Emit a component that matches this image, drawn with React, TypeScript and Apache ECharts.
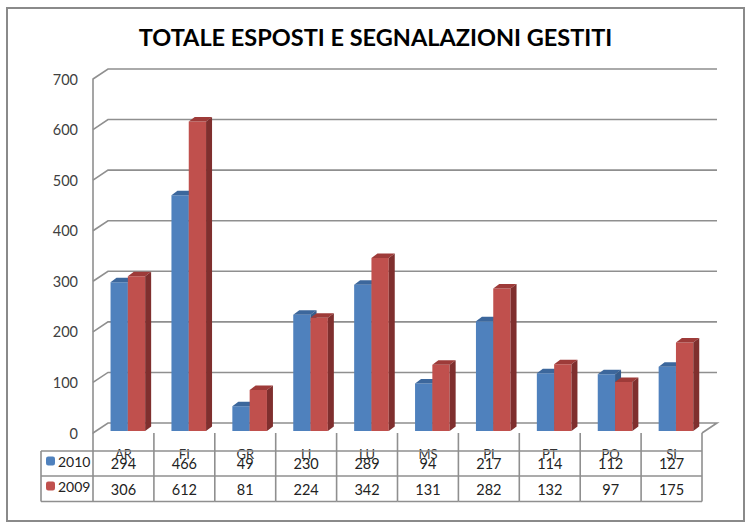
import React, { useEffect, useRef } from "react";
import * as echarts from "echarts";

const categories = ["AR", "FI", "GR", "LI", "LU", "MS", "PI", "PT", "PO", "SI"];
const values2010 = [294, 466, 49, 230, 289, 94, 217, 114, 112, 127];
const values2009 = [306, 612, 81, 224, 342, 131, 282, 132, 97, 175];
const yTicks = [0, 100, 200, 300, 400, 500, 600, 700];
const titleText = "TOTALE ESPOSTI E SEGNALAZIONI GESTITI";

const FONT = "Lato, 'Open Sans', sans-serif";
const LINE = "#8f8f8f";

function barSeries(name: string, values: number[], side: -1 | 1, front: string, top: string, dark: string) {
  return {
    type: "custom",
    name,
    coordinateSystem: "cartesian2d",
    itemStyle: { color: front },
    z: side < 0 ? 3 : 4,
    clip: false,
    data: values.map((v, i) => [i, v]),
    encode: { x: 0, y: 1 },
    renderItem(_p: any, api: any) {
      const cat = api.value(0);
      const val = api.value(1);
      const [cx, cy] = api.coord([cat, val]);
      const [, by] = api.coord([cat, 0]);
      const w = 17.3;
      const centre = cx + 4.4;
      const x0 = side < 0 ? centre - w : centre;
      const x1 = x0 + w;
      const yt = cy - 2;
      const yb = by - 2;
      const dx = 6;
      const dy = 4.5;
      return {
        type: "group",
        children: [
          { type: "rect", shape: { x: x0, y: yt, width: w, height: yb - yt }, style: { fill: front } },
          {
            type: "polygon",
            shape: { points: [[x0, yt], [x0 + dx, yt - dy], [x1 + dx, yt - dy], [x1, yt]] },
            style: { fill: top },
          },
          {
            type: "polygon",
            shape: { points: [[x1, yt], [x1 + dx, yt - dy], [x1 + dx, yb - dy], [x1, yb]] },
            style: { fill: dark },
          },
        ],
      };
    },
  };
}

export default function App() {
  const ref = useRef<HTMLDivElement>(null);

  useEffect(() => {
    const chart = echarts.init(ref.current!, undefined, { renderer: "svg" });
    const backDx = 15;
    const backDy = 10;
    const rowLines = [451, 476, 501.5];
    const tableLeft = 41;
    const labelRight = 93;
    const lineStyle = { stroke: LINE, lineWidth: 1.6, fill: "none" };

    chart.setOption({
      animation: false,
      backgroundColor: "#ffffff",
      title: {
        text: titleText,
        left: 370.5,
        textAlign: "center",
        top: 20,
        textStyle: { fontFamily: FONT, fontSize: 23.5, fontWeight: "bold", color: "#000000" },
      },
      legend: {
        orient: "vertical",
        left: 41,
        top: 449,
        itemWidth: 9,
        itemHeight: 9,
        itemGap: 11,
        selectedMode: false,
        data: ["2010", "2009"],
        textStyle: { fontFamily: FONT, fontSize: 14, lineHeight: 14, color: "#222222", padding: [0, 0, 0, -2] },
      },
      grid: { left: 93, right: 51, top: 79, bottom: 96, containLabel: false },
      xAxis: {
        type: "category",
        data: categories,
        axisLine: { show: false },
        axisTick: { show: false },
        axisLabel: {
          margin: 14,
          interval: 0,
          fontFamily: FONT,
          fontSize: 13,
          color: "#333333",
        },
      },
      yAxis: {
        type: "value",
        min: 0,
        max: 700,
        interval: 100,
        splitLine: { show: false },
        axisTick: { show: false },
        axisLine: { show: true, lineStyle: { color: LINE, width: 1.6 } },
        axisLabel: { margin: 15, fontFamily: FONT, fontSize: 14.5, color: "#404040" },
      },
      series: [
        {
          type: "custom",
          name: "walls",
          coordinateSystem: "cartesian2d",
          silent: true,
          z: 1,
          clip: false,
          data: yTicks.map((t) => [0, t]),
          encode: { y: 1 },
          renderItem(p: any, api: any) {
            const y = api.coord([0, api.value(1)])[1];
            const { x, width } = p.coordSys;
            const pts: number[][] = [
              [x, y],
              [x + backDx, y - backDy],
              [x + width + backDx, y - backDy],
            ];
            if (api.value(1) === 0) pts.push([x + width, y]);
            return { type: "polyline", shape: { points: pts }, style: lineStyle };
          },
        },
        {
          type: "custom",
          name: "table",
          coordinateSystem: "cartesian2d",
          silent: true,
          z: 2,
          clip: false,
          data: categories.map((_c, i) => [i, 0]),
          encode: { x: 0, y: 1 },
          renderItem(p: any, api: any) {
            const i = api.value(0);
            const { x, y, width, height } = p.coordSys;
            const slot = width / categories.length;
            const bottom = y + height;
            const right = x + slot * (i + 1);
            const left = x + slot * i;
            const children: any[] = [
              { type: "line", shape: { x1: right, y1: bottom, x2: right, y2: rowLines[2] }, style: lineStyle },
            ];
            if (i === 0) {
              children.push({ type: "line", shape: { x1: left, y1: bottom, x2: left, y2: rowLines[2] }, style: lineStyle });
              children.push({ type: "line", shape: { x1: tableLeft, y1: rowLines[0], x2: tableLeft, y2: rowLines[2] }, style: lineStyle });
              rowLines.forEach((ry) =>
                children.push({ type: "line", shape: { x1: tableLeft, y1: ry, x2: labelRight, y2: ry }, style: lineStyle })
              );
            }
            rowLines.forEach((ry) =>
              children.push({ type: "line", shape: { x1: left, y1: ry, x2: right, y2: ry }, style: lineStyle })
            );
            children.push({
              type: "text",
              x: left + slot / 2,
              y: 463.5,
              style: {
                text: String(values2010[i]),
                fill: "#222222",
                font: `14.5px ${FONT}`,
                align: "center",
                verticalAlign: "middle",
              },
            });
            children.push({
              type: "text",
              x: left + slot / 2,
              y: 489,
              style: {
                text: String(values2009[i]),
                fill: "#222222",
                font: `14.5px ${FONT}`,
                align: "center",
                verticalAlign: "middle",
              },
            });
            return { type: "group", children };
          },
        },
        barSeries("2010", values2010, -1, "#4f81bd", "#3c679c", "#375d8c"),
        barSeries("2009", values2009, 1, "#c0504d", "#9e3b39", "#7f2f2e"),
      ],
      graphic: [
        {
          type: "rect",
          silent: true,
          z: -1,
          shape: { x: 7, y: 8, width: 737, height: 513 },
          style: { fill: "#ffffff", stroke: "#8a8a8a", lineWidth: 2 },
        },
      ],
    });
    return () => chart.dispose();
  }, []);

  return <div ref={ref} style={{ position: "absolute", left: 0, top: 0, width: 753, height: 529 }} />;
}
